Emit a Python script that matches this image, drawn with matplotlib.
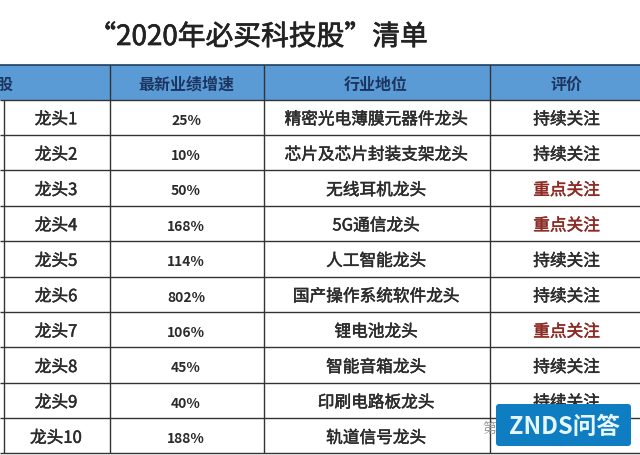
import matplotlib
matplotlib.use("Agg")
import matplotlib.pyplot as plt
import matplotlib.patheffects as pe
from matplotlib.patches import Rectangle, FancyBboxPatch

plt.rcParams['font.family'] = ['Noto Sans CJK SC', 'DejaVu Sans']

title = "“2020年必买科技股”清单"
headers = ["股", "最新业绩增速", "行业地位", "评价"]
names = ["龙头1", "龙头2", "龙头3", "龙头4", "龙头5", "龙头6", "龙头7", "龙头8", "龙头9", "龙头10"]
growth = ["25%", "10%", "50%", "168%", "114%", "802%", "106%", "45%", "40%", "188%"]
position = ["精密光电薄膜元器件龙头", "芯片及芯片封装支架龙头", "无线耳机龙头", "5G通信龙头", "人工智能龙头",
            "国产操作系统软件龙头", "锂电池龙头", "智能音箱龙头", "印刷电路板龙头", "轨道信号龙头"]
rating = ["持续关注", "持续关注", "重点关注", "重点关注", "持续关注",
          "持续关注", "重点关注", "持续关注", "持续关注", "持续关注"]

W, H = 640, 456
fig = plt.figure(figsize=(W/100, H/100), dpi=100, facecolor="white")
ax = fig.add_axes([0, 0, 1, 1])
ax.set_xlim(0, W); ax.set_ylim(H, 0); ax.axis("off")

ink = "#2b2b2b"
top, head_bottom, row_h = 66, 100.5, 35.4
n = len(names)
bottom = head_bottom + n * row_h
col_x = [3.5, 109.5, 263.5, 490]
tdy = 2.5  # CJK glyphs sit slightly high with va="center"

def heavy(colour, w=0.35):
    return [pe.withStroke(linewidth=w, foreground=colour)]

ax.add_patch(Rectangle((0, 0), W, 1.2, color="#111111", lw=0))
ax.add_patch(Rectangle((0, top), W, head_bottom - top, color="#5b9bd5", lw=0))

ax.hlines([top], 0, W, color="#1f3f5f", lw=1.2)
ax.hlines([head_bottom + i * row_h for i in range(n + 1)], 0, W, color="#333333", lw=1.0)
ax.vlines(col_x[1:], top, bottom, color="#333333", lw=1.0)
ax.vlines(col_x[0], head_bottom, bottom, color="#333333", lw=1.0)

ax.text(258, 38, title, fontsize=20, color="#222222", ha="center", va="center",
        path_effects=heavy("#222222", 0.5))

hy = (top + head_bottom) / 2 + 1.5
hc = "#1c3560"
for hx, label in zip([5, 186, 376, 566], headers):
    ax.text(hx, hy, label, fontsize=11.5, color=hc, ha="center", va="center", fontweight="bold")

for i in range(n):
    y = head_bottom + (i + 0.5) * row_h + tdy
    ax.text(56, y, names[i], fontsize=12, color=ink, ha="center", va="center", path_effects=heavy(ink))
    ax.text(186, y, growth[i], fontsize=10, color=ink, ha="center", va="center", fontweight="bold")
    ax.text(376, y, position[i], fontsize=12, color=ink, ha="center", va="center", path_effects=heavy(ink))
    col = "#8c2a24" if rating[i] == "重点关注" else ink
    ax.text(566.5, y, rating[i], fontsize=12, color=col, ha="center", va="center", path_effects=heavy(col))

# watermark
ax.text(489, 429, "第", fontsize=10, color="#999999", ha="center", va="center")
ax.add_patch(FancyBboxPatch((496, 405), 135, 42, boxstyle="round,pad=0,rounding_size=3",
                            fc="#0f7dc2", ec="none", zorder=5))
ax.text(564, 427, "ZNDS问答", fontsize=17, color="#e6f6ff", ha="center", va="center",
        fontweight="bold", style="italic", zorder=6)

fig.savefig("out.png", dpi=100)
